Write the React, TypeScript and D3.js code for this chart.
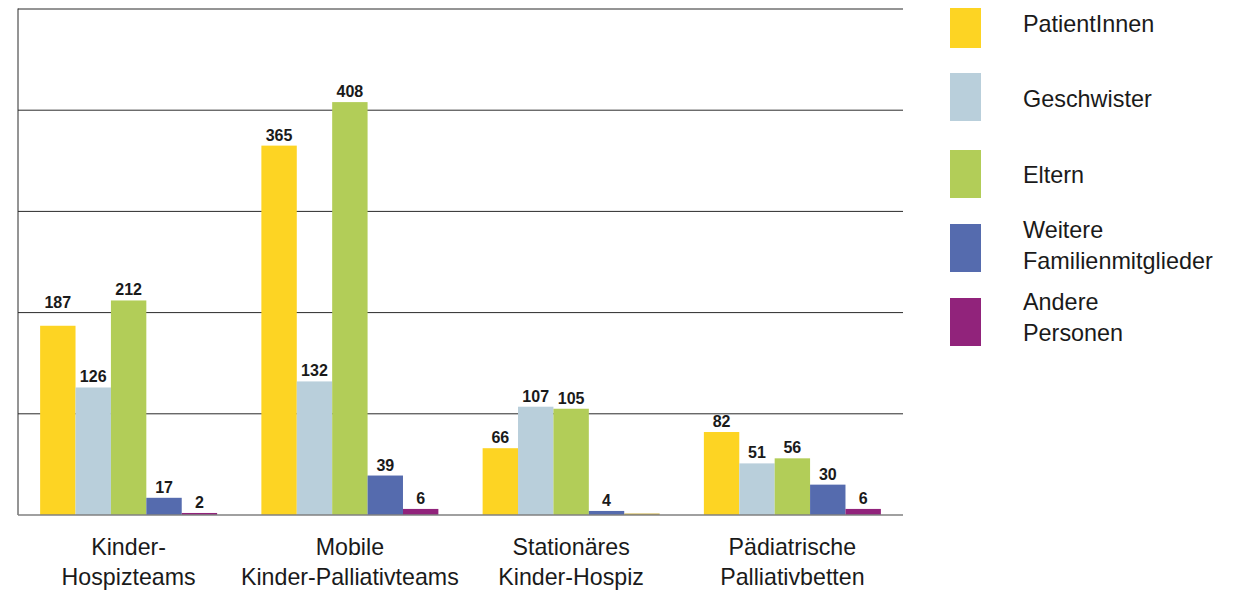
import React from "react";
import * as d3 from "d3";

const categories = [
  ["Kinder-", "Hospizteams"],
  ["Mobile", "Kinder-Palliativteams"],
  ["Stationäres", "Kinder-Hospiz"],
  ["Pädiatrische", "Palliativbetten"],
];
const seriesNames = [
  ["PatientInnen"],
  ["Geschwister"],
  ["Eltern"],
  ["Weitere", "Familienmitglieder"],
  ["Andere", "Personen"],
];
const patienten = [187, 365, 66, 82];
const geschwister = [126, 132, 107, 51];
const eltern = [212, 408, 105, 56];
const weitere = [17, 39, 4, 30];
const andere = [2, 6, 0, 6];
const yTicks = [0, 100, 200, 300, 400, 500];

const series = [patienten, geschwister, eltern, weitere, andere];
const colors = ["#fdd423", "#b9cfdb", "#b2cd58", "#556bae", "#91237b"];
const FONT = "'Liberation Sans', Arial, sans-serif";

export default function App() {
  const W = 1238, H = 592;
  const left = 18, right = 903, top = 9, bottom = 515;
  const x0 = d3.scaleBand<number>().domain(d3.range(categories.length)).range([left, right]).paddingInner(0.2).paddingOuter(0.1);
  const x1 = d3.scaleBand<number>().domain(d3.range(series.length)).range([0, x0.bandwidth()]);
  const y = d3.scaleLinear().domain([0, 500]).range([bottom, top]);

  const labelShift = (s: number, c: number) => (s === 0 && c === 0 ? -13 : 0);

  const legendBoxes = [
    [8, 40],
    [73, 48],
    [150, 48],
    [224, 48],
    [298, 48],
  ];
  const legendBaselines = [32, 107, 183, 238, 310];

  return (
    <svg width={W} height={H} style={{ position: "absolute", left: 0, top: 0, background: "#fff" }} fontFamily={FONT}>
      {yTicks.filter((t) => t > 0).map((t) => (
        <line key={t} x1={left} x2={right} y1={y(t)} y2={y(t)} stroke="#2a2a2a" strokeWidth={1} />
      ))}
      <line x1={left} x2={left} y1={top - 0.5} y2={bottom} stroke="#2a2a2a" strokeWidth={1} />
      {series.map((vals, s) =>
        vals.map((v, c) => {
          const bx = (x0(c) as number) + (x1(s) as number);
          const bw = x1.bandwidth();
          if (v === 0) {
            return <rect key={`${s}-${c}`} x={bx} y={bottom - 1.5} width={bw} height={1.5} fill="#c9ab3d" />;
          }
          return (
            <g key={`${s}-${c}`}>
              <rect x={bx} y={y(v)} width={bw} height={bottom - y(v)} fill={colors[s]} />
              <text x={bx + bw / 2} y={y(v) - 5 + labelShift(s, c)} textAnchor="middle" fontSize={16} fontWeight={700} fill="#1a1a1a">
                {v}
              </text>
            </g>
          );
        })
      )}
      <line x1={left} x2={right} y1={bottom} y2={bottom} stroke="#808080" strokeWidth={1.5} />
      {categories.map((lines, c) => (
        <text key={c} textAnchor="middle" fontSize={23.2} fill="#1a1a1a">
          {lines.map((l, i) => (
            <tspan key={i} x={(x0(c) as number) + x0.bandwidth() / 2} y={555 + i * 30}>
              {l}
            </tspan>
          ))}
        </text>
      ))}
      {seriesNames.map((lines, s) => {
        const [ys, hs] = legendBoxes[s];
        return (
          <g key={s}>
            <rect x={950} y={ys} width={31} height={hs} fill={colors[s]} />
            <text fontSize={23.4} fill="#1a1a1a">
              {lines.map((l, i) => (
                <tspan key={i} x={1023} y={legendBaselines[s] + i * 31}>
                  {l}
                </tspan>
              ))}
            </text>
          </g>
        );
      })}
    </svg>
  );
}
